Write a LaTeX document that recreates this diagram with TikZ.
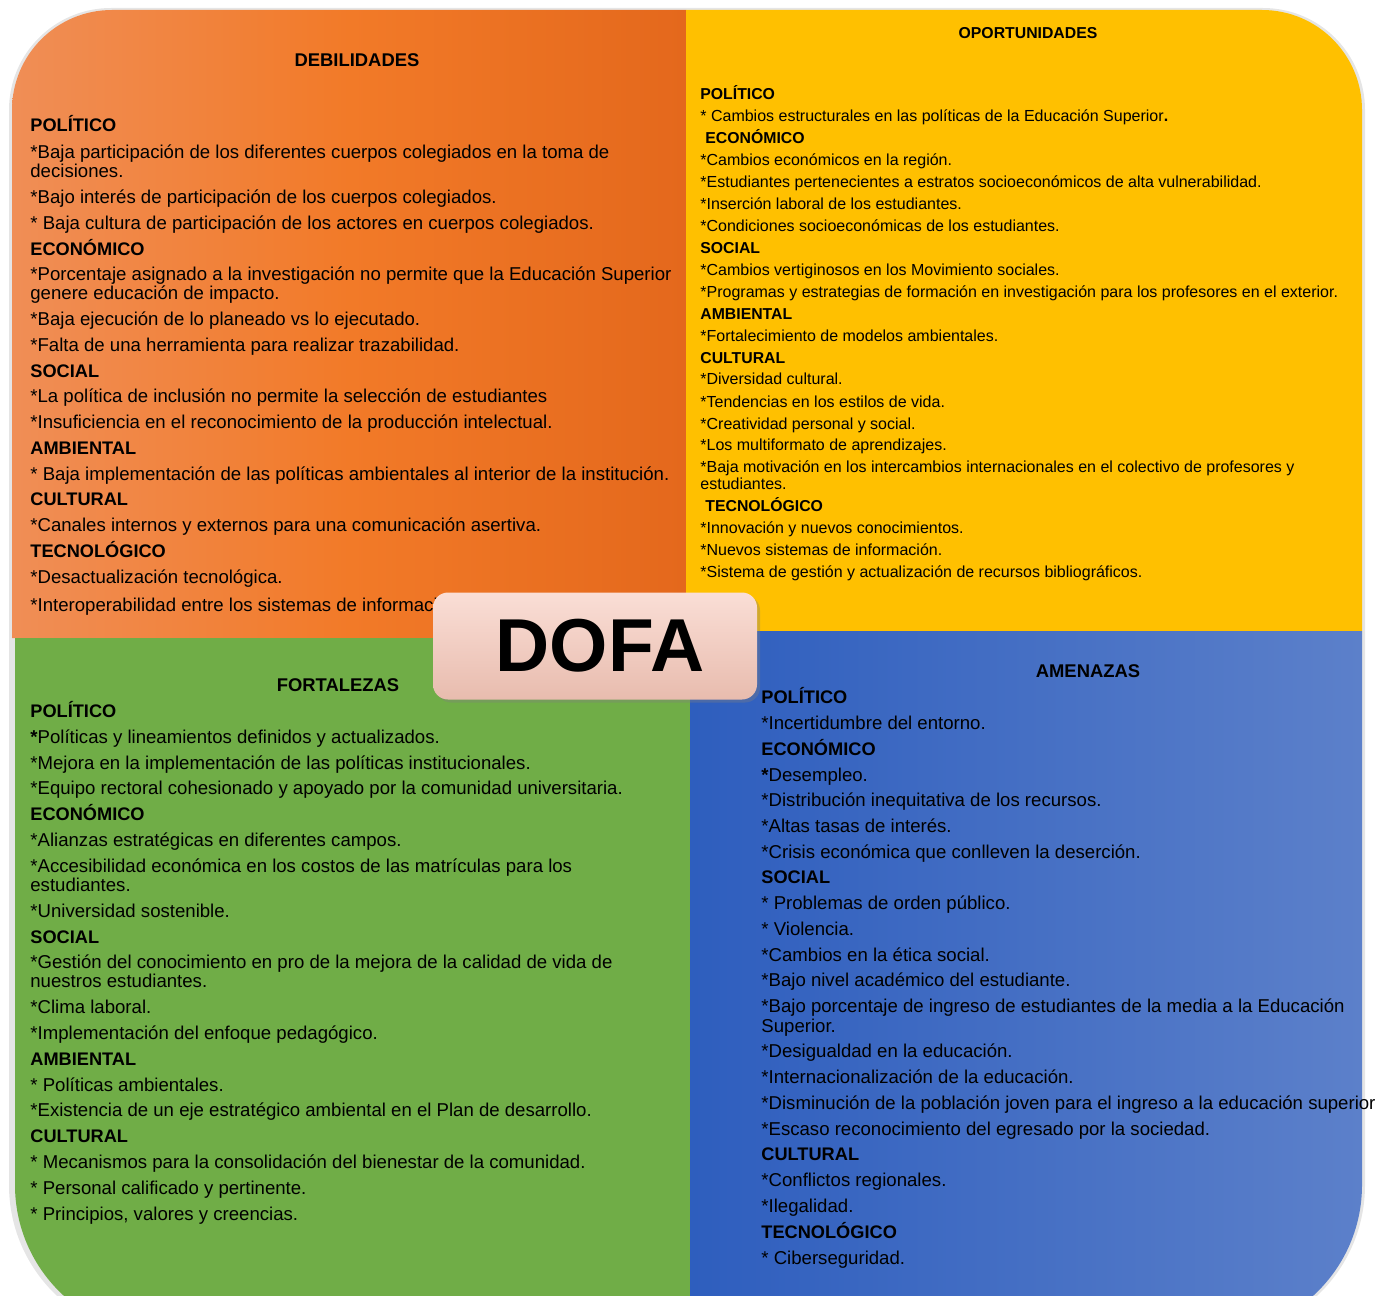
\documentclass[tikz,border=0pt]{standalone}
\usepackage{fontspec}
\setmainfont{Liberation Sans}
\usetikzlibrary{shadows}
\definecolor{debilL}{RGB}{240,142,86}
\definecolor{debilM}{RGB}{242,122,40}
\definecolor{debilR}{RGB}{228,104,28}
\definecolor{oport}{RGB}{255,192,0}
\definecolor{fortal}{RGB}{112,173,71}
\definecolor{amenL}{RGB}{46,94,190}
\definecolor{amenR}{RGB}{92,128,202}
\definecolor{dofaT}{RGB}{250,222,214}
\definecolor{dofaB}{RGB}{232,188,174}
\newcommand{\dcat}[1]{{\bfseries\fontsize{9.1}{11}\selectfont #1}}
\newcommand{\ocat}[1]{{\bfseries\fontsize{7.9}{9}\selectfont #1}}
\tikzset{
x=0.5pt, y=-0.5pt, % one unit is one pixel of the sheet, y goes down
entry/.style={anchor=base west, inner sep=0pt, font=\fontsize{9.3}{11}\selectfont}, % lines of the lists
small entry/.style={entry, font=\fontsize{8}{9}\selectfont}, % lines of OPORTUNIDADES
quadtitle/.style={anchor=base, inner sep=0pt, font=\bfseries\fontsize{9.2}{11}\selectfont},
dofabox/.style={rounded corners=7.5pt, top color=dofaT, bottom color=dofaB,
  minimum width=162pt, minimum height=53.5pt,
  drop shadow={opacity=0.35, shadow xshift=1.5pt, shadow yshift=-1.5pt},
  font=\bfseries\fontsize{37.5}{40}\selectfont},
}
\begin{document}
\begin{tikzpicture}
\useasboundingbox (0,0) rectangle (1375,1295);
\clip (0,0) rectangle (1375,1295);
% shadow of the sheet
\fill[black!10] (9,700) [rounded corners=51pt] -- (9,8) -- (700,8) -- (1365,8) -- (1365,700)
  [rounded corners=76pt] -- (1365,1337) -- (700,1337) -- (9,1337) -- cycle;
% the four quadrants
\path[left color=debilL, right color=debilR, middle color=debilM] (12,638) -- (12,300)
  [rounded corners=50pt] -- (12,10) -- (300,10) [sharp corners] -- (686,10) -- (686,638) -- cycle;
\fill[oport] (686,631) -- (686,10) -- (1000,10) [rounded corners=50pt] -- (1362,10) -- (1362,300)
  [sharp corners] -- (1362,631) -- cycle;
\fill[fortal] (15,638) -- (690,638) -- (690,1335) -- (400,1335) [rounded corners=75pt] -- (15,1335)
  -- (15,900) [sharp corners] -- cycle;
\path[left color=amenL, right color=amenR] (690,631) -- (1362,631) -- (1362,900)
  [rounded corners=75pt] -- (1362,1335) -- (1000,1335) [sharp corners] -- (690,1335) -- cycle;
% titles
\node[quadtitle] (tdebil) at (357,67) {DEBILIDADES};
\node[quadtitle, font=\bfseries\fontsize{7.9}{9}\selectfont] (toport) at (1028,39) {OPORTUNIDADES};
\node[quadtitle] (tfortal) at (338,691) {FORTALEZAS};
\node[quadtitle] (tamen) at (1088,677) {AMENAZAS};
% DEBILIDADES
\foreach \y/\txt in {132/\dcat{POLÍTICO},
  158/*Baja participación de los diferentes cuerpos colegiados en la toma de,
  177/decisiones.,
  203/*Bajo interés de participación de los cuerpos colegiados.,
  229/* Baja cultura de participación de los actores en cuerpos colegiados.,
  255/\dcat{ECONÓMICO},
  280/*Porcentaje asignado a la investigación no permite que la Educación Superior,
  299/genere educación de impacto.,
  325/*Baja ejecución de lo planeado vs lo ejecutado.,
  351/*Falta de una herramienta para realizar trazabilidad.,
  377/\dcat{SOCIAL},
  402/*La política de inclusión no permite la selección de estudiantes,
  428/*Insuficiencia en el reconocimiento de la producción intelectual.,
  454/\dcat{AMBIENTAL},
  480/* Baja implementación de las políticas ambientales al interior de la institución.,
  505/\dcat{CULTURAL},
  531/*Canales internos y externos para una comunicación asertiva.,
  557/\dcat{TECNOLÓGICO},
  583/*Desactualización tecnológica.,
  611/*Interoperabilidad entre los sistemas de información.}
  \node[entry] (d\y) at (30,\y) {\txt};
% OPORTUNIDADES
\foreach \y/\txt in {99/\ocat{POLÍTICO},
  121/* Cambios estructurales en las políticas de la Educación Superior\textbf{.},
  143/\hspace*{2.5pt}\ocat{ECONÓMICO},
  165/*Cambios económicos en la región.,
  187/*Estudiantes pertenecientes a estratos socioeconómicos de alta vulnerabilidad.,
  209/*Inserción laboral de los estudiantes.,
  231/*Condiciones socioeconómicas de los estudiantes.,
  253/\ocat{SOCIAL},
  275/*Cambios vertiginosos en los Movimiento sociales.,
  297/*Programas y estrategias de formación en investigación para los profesores en el exterior.,
  319/\ocat{AMBIENTAL},
  341/*Fortalecimiento de modelos ambientales.,
  363/\ocat{CULTURAL},
  384/*Diversidad cultural.,
  407/*Tendencias en los estilos de vida.,
  429/*Creatividad personal y social.,
  450/*Los multiformato de aprendizajes.,
  472/*Baja motivación en los intercambios internacionales en el colectivo de profesores y,
  489/estudiantes.,
  511/\hspace*{2.5pt}\ocat{TECNOLÓGICO},
  533/*Innovación y nuevos conocimientos.,
  555/*Nuevos sistemas de información.,
  577/*Sistema de gestión y actualización de recursos bibliográficos.}
  \node[small entry] (o\y) at (700,\y) {\txt};
% FORTALEZAS
\foreach \y/\txt in {717/\dcat{POLÍTICO},
  743/\textbf{*}Políticas y lineamientos definidos y actualizados.,
  769/*Mejora en la implementación de las políticas institucionales.,
  794/*Equipo rectoral cohesionado y apoyado por la comunidad universitaria.,
  820/\dcat{ECONÓMICO},
  846/*Alianzas estratégicas en diferentes campos.,
  872/*Accesibilidad económica en los costos de las matrículas para los,
  891/estudiantes.,
  917/*Universidad sostenible.,
  943/\dcat{SOCIAL},
  968/*Gestión del conocimiento en pro de la mejora de la calidad de vida de,
  987/nuestros estudiantes.,
  1013/*Clima laboral.,
  1039/*Implementación del enfoque pedagógico.,
  1065/\dcat{AMBIENTAL},
  1091/* Políticas ambientales.,
  1116/*Existencia de un eje estratégico ambiental en el Plan de desarrollo.,
  1142/\dcat{CULTURAL},
  1168/* Mecanismos para la consolidación del bienestar de la comunidad.,
  1194/* Personal calificado y pertinente.,
  1220/{* Principios, valores y creencias.}}
  \node[entry] (f\y) at (30,\y) {\txt};
% AMENAZAS
\foreach \y/\txt in {703/\dcat{POLÍTICO},
  729/*Incertidumbre del entorno.,
  755/\dcat{ECONÓMICO},
  781/\textbf{*}Desempleo.,
  806/*Distribución inequitativa de los recursos.,
  832/*Altas tasas de interés.,
  858/*Crisis económica que conlleven la deserción.,
  883/\dcat{SOCIAL},
  909/* Problemas de orden público.,
  935/* Violencia.,
  961/*Cambios en la ética social.,
  986/*Bajo nivel académico del estudiante.,
  1012/*Bajo porcentaje de ingreso de estudiantes de la media a la Educación,
  1032/Superior.,
  1057/*Desigualdad en la educación.,
  1083/*Internacionalización de la educación.,
  1109/*Disminución de la población joven para el ingreso a la educación superior,
  1135/*Escaso reconocimiento del egresado por la sociedad.,
  1160/\dcat{CULTURAL},
  1186/*Conflictos regionales.,
  1212/*Ilegalidad.,
  1238/\dcat{TECNOLÓGICO},
  1264/* Ciberseguridad.}
  \node[entry] (a\y) at (761,\y) {\txt};
% the label in the middle
\node[dofabox] (dofa) at (595,646) {\hspace*{5pt}DOFA};
\end{tikzpicture}
\end{document}
